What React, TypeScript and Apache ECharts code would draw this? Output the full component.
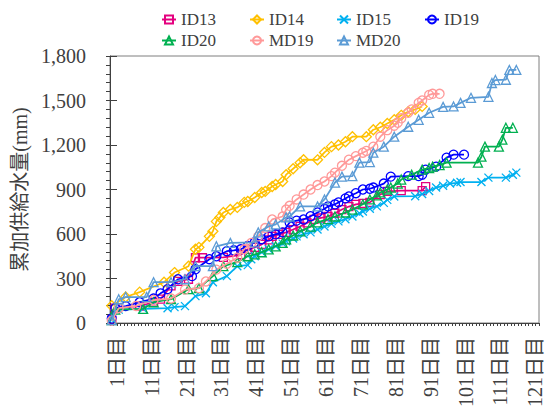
import React, { useEffect, useRef } from "react";
import * as echarts from "echarts";

// Category (tick) labels: 1日目 ... 123日目
const dayLabels: string[] = Array.from({ length: 123 }, (_, i) => `${i + 1}日目`);

const yTicks = { min: 0, max: 1800, interval: 300 };

const seriesNames = ["ID13", "ID14", "ID15", "ID19", "ID20", "MD19", "MD20"];

const id13Days = [1, 2, 9, 13, 15, 18, 20, 23, 25, 27, 33, 38, 40, 42, 44, 46, 47, 49, 51, 53, 55, 57, 59, 61, 63, 65, 67, 69, 71, 73, 75, 78, 80, 84, 90, 91];
const id13Vals = [20, 100, 114, 140, 161, 250, 280, 295, 440, 440, 443, 460, 497, 510, 530, 560, 584, 598, 611, 630, 651, 675, 698, 708, 718, 740, 765, 785, 800, 806, 813, 866, 887, 893, 893, 920];

const id14Days = [1, 5, 9, 16, 19, 23, 25, 26, 29, 30, 31, 32, 33, 35, 37, 39, 40, 42, 44, 45, 47, 48, 50, 51, 53, 55, 56, 60, 62, 64, 66, 68, 70, 74, 76, 78, 80, 82, 84, 86, 88, 90];
const id14Vals = [116, 175, 208, 275, 340, 383, 497, 510, 584, 618, 685, 712, 745, 765, 779, 813, 819, 846, 880, 887, 920, 934, 954, 1000, 1040, 1080, 1101, 1100, 1150, 1189, 1200, 1222, 1256, 1256, 1303, 1320, 1345, 1370, 1400, 1424, 1440, 1460];

const id15Days = [1, 3, 10, 17, 19, 22, 25, 28, 30, 34, 37, 40, 41, 42, 44, 46, 48, 50, 51, 53, 54, 56, 58, 60, 62, 64, 66, 68, 70, 72, 73, 75, 77, 79, 80, 82, 88, 90, 92, 94, 96, 98, 100, 101, 107, 109, 114, 116, 117];
const id15Vals = [20, 90, 95, 100, 107, 114, 181, 200, 275, 316, 383, 390, 430, 450, 477, 497, 517, 535, 551, 570, 584, 598, 611, 630, 651, 668, 685, 700, 718, 740, 752, 770, 786, 810, 830, 853, 855, 870, 890, 913, 925, 940, 945, 950, 950, 980, 980, 1000, 1014];

const id19Days = [1, 2, 5, 9, 13, 15, 17, 20, 24, 25, 29, 31, 34, 36, 38, 40, 42, 44, 46, 48, 50, 52, 54, 56, 58, 60, 62, 63, 65, 66, 68, 69, 71, 73, 75, 76, 79, 81, 86, 89, 90, 91, 94, 97, 99, 102];
const id19Vals = [30, 100, 114, 140, 165, 200, 228, 295, 316, 362, 430, 450, 484, 490, 497, 520, 544, 565, 584, 598, 611, 678, 690, 698, 720, 745, 770, 786, 800, 813, 840, 853, 875, 900, 905, 913, 940, 987, 990, 990, 1000, 1034, 1054, 1115, 1135, 1135];

const id20Days = [1, 2, 10, 13, 18, 23, 26, 30, 33, 37, 40, 42, 44, 46, 48, 50, 51, 53, 55, 58, 60, 63, 65, 68, 70, 73, 75, 77, 78, 80, 81, 83, 84, 87, 90, 92, 93, 95, 97, 106, 107, 108, 112, 113, 114, 116];
const id20Vals = [20, 90, 95, 140, 161, 228, 235, 316, 383, 410, 450, 463, 477, 497, 517, 540, 564, 590, 618, 650, 678, 700, 718, 745, 765, 800, 833, 860, 880, 900, 913, 940, 967, 1000, 1034, 1045, 1054, 1065, 1081, 1081, 1121, 1189, 1189, 1236, 1316, 1316];

const md19Days = [1, 3, 8, 13, 18, 22, 26, 28, 31, 34, 37, 39, 41, 43, 45, 47, 50, 51, 52, 54, 56, 58, 60, 62, 64, 65, 67, 69, 71, 73, 74, 76, 78, 80, 82, 83, 84, 86, 87, 89, 90, 92, 93, 95];
const md19Vals = [15, 100, 115, 155, 165, 225, 235, 280, 360, 400, 440, 497, 540, 584, 640, 698, 718, 765, 790, 833, 866, 900, 930, 954, 990, 1014, 1060, 1101, 1125, 1148, 1160, 1189, 1256, 1300, 1330, 1350, 1380, 1417, 1440, 1484, 1500, 1538, 1545, 1545];

const md20Days = [1, 3, 5, 11, 13, 18, 22, 25, 30, 31, 35, 42, 43, 46, 48, 51, 52, 55, 60, 62, 65, 67, 70, 72, 75, 76, 79, 82, 86, 89, 92, 96, 99, 101, 104, 109, 110, 111, 114, 115, 117];
const md20Vals = [20, 160, 175, 175, 275, 275, 295, 383, 383, 517, 540, 544, 611, 651, 665, 712, 718, 786, 786, 833, 947, 987, 990, 1081, 1085, 1148, 1189, 1256, 1323, 1370, 1417, 1457, 1460, 1484, 1518, 1525, 1618, 1638, 1640, 1706, 1706];

const allDays = [id13Days, id14Days, id15Days, id19Days, id20Days, md19Days, md20Days];
const allVals = [id13Vals, id14Vals, id15Vals, id19Vals, id20Vals, md19Vals, md20Vals];

const colors = ["#E4007F", "#FFC000", "#00B0F0", "#0000FF", "#00B050", "#FF9999", "#5B9BD5"];
const symbols = [
  "rect",
  "diamond",
  "path://M0,0L10,10M10,0L0,10",
  "circle",
  "triangle",
  "circle",
  "triangle",
];
const symbolSizes = [8, 10, 8, 9, 9, 9, 9];

const FONT = "'Liberation Serif', 'Noto Sans CJK JP', serif";
const TXT = "#404040";

const legendPos = [
  [161, 11],
  [249, 11],
  [336, 11],
  [424, 11],
  [161, 32],
  [249, 32],
  [336, 32],
];

export default function App() {
  const ref = useRef<HTMLDivElement>(null);
  useEffect(() => {
    if (!ref.current) return;
    const chart = echarts.init(ref.current, undefined, { renderer: "svg" });
    const series = seriesNames.map((name, i) => ({
      name,
      type: "line",
      data: allDays[i].map((d, k) => [d - 1, allVals[i][k]]),
      symbol: symbols[i],
      symbolSize: symbolSizes[i],
      symbolKeepAspect: true,
      showAllSymbol: true,
      lineStyle: { color: colors[i], width: 1.75 },
      itemStyle: { color: "rgba(0,0,0,0)", borderColor: colors[i], borderWidth: 1.3 },
      emphasis: { disabled: true },
      z: 2 + i,
    }));
    chart.setOption({
      animation: false,
      textStyle: { fontFamily: FONT },
      legend: seriesNames.map((name, i) => ({
        data: [name],
        left: legendPos[i][0],
        top: legendPos[i][1],
        padding: 0,
        itemWidth: 14,
        itemHeight: 10,
        selectedMode: false,
        textStyle: { fontSize: 17, color: TXT, fontFamily: FONT },
      })),
      grid: {
        left: 110,
        right: 10,
        top: 56,
        bottom: 86,
        show: true,
        borderColor: "#7f7f7f",
        borderWidth: 1,
      },
      xAxis: {
        type: "category",
        data: dayLabels,
        boundaryGap: true,
        axisLine: { lineStyle: { color: TXT, width: 1 } },
        axisTick: { show: true, interval: 0, length: 3, lineStyle: { color: TXT } },
        axisLabel: {
          interval: 9,
          rotate: 90,
          fontSize: 20,
          fontFamily: FONT,
          color: TXT,
          margin: 14,
          verticalAlign: "top",
          lineHeight: 10,
        },
        splitLine: { show: false },
      },
      yAxis: [
        {
          type: "value",
          min: yTicks.min,
          max: yTicks.max,
          interval: yTicks.interval,
          name: "累加供給水量(mm)",
          nameLocation: "middle",
          nameGap: 77,
          nameTextStyle: { fontSize: 20, color: TXT, fontFamily: FONT },
          axisLine: { show: true, lineStyle: { color: TXT } },
          axisTick: { show: true, length: 4, lineStyle: { color: TXT } },
          minorTick: { show: true, splitNumber: 5, length: 4, lineStyle: { color: TXT } },
          axisLabel: {
            fontSize: 20,
            fontFamily: FONT,
            color: TXT,
            margin: 24,
            formatter: (v: number) => v.toLocaleString("en-US"),
          },
          splitLine: { show: false },
          minorSplitLine: { show: false },
        },
        {
          type: "value",
          min: yTicks.min,
          max: yTicks.max,
          interval: yTicks.interval,
          position: "left",
          axisLine: { show: false },
          axisTick: { show: true, inside: true, length: 7, lineStyle: { color: TXT } },
          axisLabel: { show: false },
          splitLine: { show: false },
        },
      ],
      series,
    });
    return () => chart.dispose();
  }, []);
  return (
    <div
      ref={ref}
      style={{ position: "fixed", left: 0, top: 0, width: 549, height: 410, background: "#fff" }}
    />
  );
}
